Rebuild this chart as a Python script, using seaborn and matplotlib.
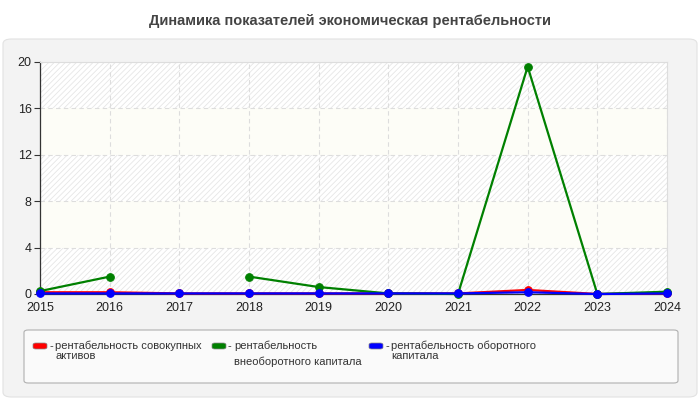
import numpy as np
import pandas as pd
import seaborn as sns
import matplotlib.pyplot as plt
from matplotlib.patches import FancyBboxPatch

years = [2015, 2016, 2017, 2018, 2019, 2020, 2021, 2022, 2023, 2024]
total_assets = [0.15, 0.15, 0.05, 0.05, 0.05, 0.05, 0.05, 0.35, 0.0, 0.05]
fixed_capital = [0.25, 1.5, np.nan, 1.5, 0.6, 0.05, 0.0, 19.6, 0.0, 0.2]
working_capital = [0.05, 0.05, 0.05, 0.05, 0.05, 0.05, 0.05, 0.15, 0.0, 0.05]

names = ['рентабельность совокупных\nактивов',
         'рентабельность\nвнеоборотного капитала',
         'рентабельность оборотного\nкапитала']
colors = ['#ff0000', '#008000', '#0000ff']
title = 'Динамика показателей экономическая рентабельности'

sns.set_style('white')
plt.rcParams['font.family'] = ['Arial', 'Liberation Sans', 'DejaVu Sans']
plt.rcParams['hatch.linewidth'] = 0.6

fig = plt.figure(figsize=(7, 4), dpi=100)
fig.patch.set_facecolor('white')

# outer panel
panel = FancyBboxPatch((3 / 700, 3 / 400), 694 / 700, 358 / 400,
                       boxstyle='round,pad=0,rounding_size=0.012',
                       transform=fig.transFigure, facecolor='#f3f3f3',
                       edgecolor='#e2e2e2', lw=0.8, zorder=-10)
fig.patches.append(panel)

fig.text(0.5, 0.948, title, ha='center', va='center', fontsize=10.5,
         fontweight='bold', color='#444444')

ax = fig.add_axes([40 / 700, 106 / 400, 627 / 700, 232 / 400])
ax.set_zorder(5)
ax.set_facecolor('#fdfdf7')

# striped bands
for lo in [0, 8, 16]:
    ax.axhspan(lo, lo + 4, facecolor='white', edgecolor='#e6e6e6',
               hatch='//////', lw=0, zorder=0)

series = [total_assets, fixed_capital, working_capital]
for vals, name, col in zip(series, names, colors):
    df = pd.DataFrame({'year': years, 'value': vals})
    # split at gaps so missing years stay empty
    ok = df['value'].notna()
    grp = (~ok).cumsum()
    for _, part in df[ok].groupby(grp[ok]):
        sns.lineplot(data=part, x='year', y='value', ax=ax, color=col,
                     lw=1.6, marker='o', markersize=5.5,
                     markeredgecolor=col, zorder=3, clip_on=False)

ax.set_xlim(2015, 2024)
ax.set_ylim(0, 20)
ax.set_xticks(years)
ax.set_yticks([0, 4, 8, 12, 16, 20])
ax.set_xlabel('')
ax.set_ylabel('')
ax.grid(True, color='#dddddd', ls=(0, (4, 3)), lw=0.8)
ax.set_axisbelow(True)
for s in ['top', 'right']:
    ax.spines[s].set_color('#dddddd')
for s in ['left', 'bottom']:
    ax.spines[s].set_color('#333333')
    ax.spines[s].set_linewidth(0.9)
ax.tick_params(axis='y', left=True, length=4, width=0.8, color='#333333',
               labelsize=9, labelcolor='#222222', pad=2)
ax.tick_params(axis='x', bottom=False, labelsize=9, labelcolor='#222222', pad=2)

# legend box
lbox = FancyBboxPatch((24 / 700, 17 / 400), 654 / 700, 53 / 400,
                      boxstyle='round,pad=0,rounding_size=0.006',
                      transform=fig.transFigure, facecolor='#fafafa',
                      edgecolor='#b0b0b0', lw=0.8, zorder=1)
fig.patches.append(lbox)
lx = [33, 212, 369]
for x, name, col, sp in zip(lx, names, colors, [1.0, 1.6, 1.0]):
    sw = FancyBboxPatch((x / 700, 51 / 400), 14 / 700, 6 / 400,
                        boxstyle='round,pad=0,rounding_size=0.004',
                        transform=fig.transFigure, facecolor=col,
                        edgecolor='#888888', lw=0.5, zorder=2)
    fig.patches.append(sw)
    fig.text((x + 16) / 700, 54 / 400, '-', ha='left', va='center',
             fontsize=8, color='#333333', zorder=3)
    fig.text((x + 22) / 700, 59 / 400, name, ha='left', va='top',
             fontsize=8, color='#333333', linespacing=sp, zorder=3)

fig.savefig('out.png', dpi=100, facecolor=fig.get_facecolor())
